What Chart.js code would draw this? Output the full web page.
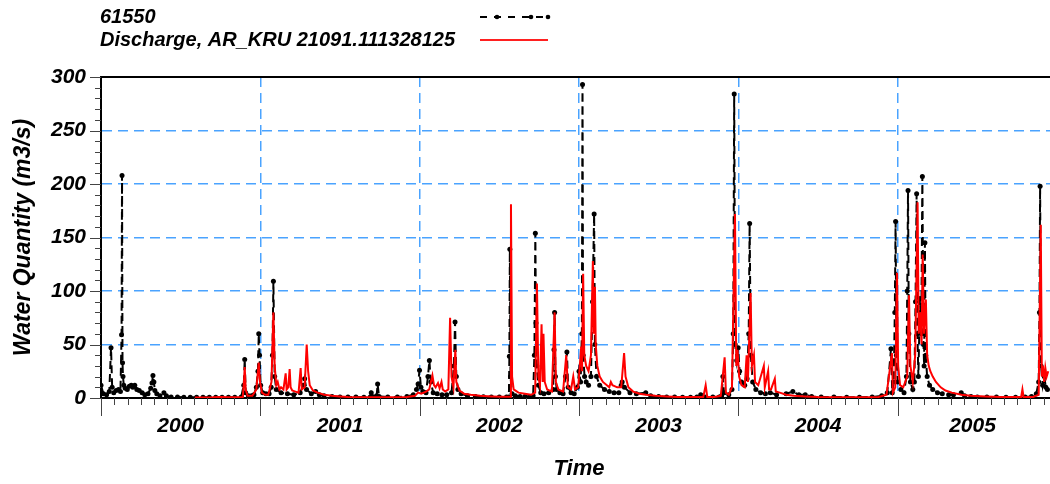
<!DOCTYPE html>
<html>
<head>
<meta charset="utf-8">
<script src="https://cdn.jsdelivr.net/npm/chart.js@4.4.0/dist/chart.umd.min.js"></script>
<style>
html, body { margin: 0; padding: 0; background: #fff; overflow: hidden; }
#wrap { width: 1050px; height: 484px; overflow: hidden; }
</style>
</head>
<body>
<div id="wrap"><canvas id="flowChart" width="1061" height="484"></canvas></div>
<script>
var gaugeLabel = '61550';
var modelLabel = 'Discharge, AR_KRU 21091.111328125';

// observed series (decimal years / m3/s)
var gaugeTime = [
    2000.000, 2000.015, 2000.035, 2000.052, 2000.063, 2000.070, 2000.080, 2000.095, 2000.110, 2000.122,
    2000.129, 2000.132, 2000.135, 2000.138, 2000.143, 2000.152, 2000.165, 2000.178, 2000.190, 2000.200,
    2000.212, 2000.225, 2000.240, 2000.258, 2000.275, 2000.295, 2000.312, 2000.320, 2000.326, 2000.332,
    2000.338, 2000.350, 2000.370, 2000.395, 2000.410, 2000.440, 2000.480, 2000.520, 2000.560, 2000.600,
    2000.640, 2000.680, 2000.720, 2000.760, 2000.800, 2000.840, 2000.880, 2000.896, 2000.902, 2000.908,
    2000.925, 2000.945, 2000.960, 2000.975, 2000.985, 2000.990, 2000.995, 2001.002, 2001.015, 2001.035,
    2001.055, 2001.068, 2001.076, 2001.082, 2001.090, 2001.100, 2001.130, 2001.170, 2001.210, 2001.250,
    2001.270, 2001.278, 2001.290, 2001.320, 2001.347, 2001.370, 2001.400, 2001.450, 2001.500, 2001.550,
    2001.600, 2001.650, 2001.690, 2001.696, 2001.710, 2001.730, 2001.736, 2001.745, 2001.800, 2001.860,
    2001.920, 2001.960, 2001.980, 2001.990, 2001.999, 2002.008, 2002.020, 2002.040, 2002.052, 2002.061,
    2002.070, 2002.085, 2002.110, 2002.140, 2002.170, 2002.200, 2002.215, 2002.222, 2002.230, 2002.240,
    2002.260, 2002.300, 2002.350, 2002.400, 2002.450, 2002.500, 2002.545, 2002.560, 2002.563, 2002.566,
    2002.570, 2002.580, 2002.600, 2002.630, 2002.660, 2002.690, 2002.712, 2002.720, 2002.726, 2002.730,
    2002.735, 2002.745, 2002.760, 2002.780, 2002.810, 2002.838, 2002.843, 2002.847, 2002.852, 2002.860,
    2002.880, 2002.900, 2002.915, 2002.924, 2002.932, 2002.950, 2002.970, 2002.990, 2003.000, 2003.010,
    2003.018, 2003.022, 2003.026, 2003.035, 2003.045, 2003.060, 2003.075, 2003.085, 2003.095, 2003.100,
    2003.110, 2003.130, 2003.160, 2003.190, 2003.220, 2003.250, 2003.265, 2003.271, 2003.285, 2003.320,
    2003.360, 2003.419, 2003.450, 2003.500, 2003.550, 2003.600, 2003.650, 2003.700, 2003.740, 2003.764,
    2003.790, 2003.840, 2003.880, 2003.895, 2003.903, 2003.910, 2003.940, 2003.960, 2003.968, 2003.974,
    2003.980, 2003.990, 2003.999, 2004.008, 2004.020, 2004.040, 2004.055, 2004.065, 2004.071, 2004.078,
    2004.090, 2004.110, 2004.140, 2004.170, 2004.200, 2004.240, 2004.300, 2004.342, 2004.380, 2004.420,
    2004.460, 2004.520, 2004.600, 2004.680, 2004.760, 2004.840, 2004.900, 2004.935, 2004.958, 2004.966,
    2004.975, 2004.982, 2004.987, 2004.992, 2005.000, 2005.020, 2005.040, 2005.055, 2005.060, 2005.065,
    2005.070, 2005.080, 2005.095, 2005.105, 2005.112, 2005.119, 2005.124, 2005.130, 2005.140, 2005.148,
    2005.155, 2005.162, 2005.166, 2005.171, 2005.176, 2005.185, 2005.200, 2005.220, 2005.250, 2005.280,
    2005.320, 2005.350, 2005.399, 2005.420, 2005.460, 2005.500, 2005.560, 2005.620, 2005.680, 2005.740,
    2005.800, 2005.840, 2005.870, 2005.885, 2005.890, 2005.894, 2005.900, 2005.910, 2005.920, 2005.930,
    2005.940
];
var gaugeFlow = [
    12, 4, 3, 6, 47, 10, 5, 7, 8, 6,
    59, 208, 33, 20, 12, 9, 8, 11, 12, 10,
    12, 8, 7, 5, 3, 4, 9, 14, 21, 15,
    7, 4, 2, 5, 2, 1, 1, 0.8, 0.8, 0.8,
    0.7, 0.7, 0.6, 0.6, 0.7, 0.8, 1, 12, 36, 5,
    2, 2, 3, 10, 25, 60, 40, 12, 5, 4,
    4, 10, 40, 109, 20, 8, 5, 4, 3, 5,
    12, 18, 8, 4, 6, 3, 2, 1.5, 1, 1,
    1, 0.8, 1, 5, 1, 2, 13, 1.5, 1, 1,
    1.5, 3, 8, 13, 26, 10, 6, 5, 20, 35,
    15, 5, 4, 3, 3, 5, 30, 71, 20, 8,
    4, 2, 1.5, 1.2, 1, 1, 1, 1, 39, 139,
    20, 4, 2, 1.5, 1.5, 1.5, 2, 40, 154, 70,
    30, 12, 5, 4, 5, 8, 45, 80, 20, 8,
    5, 4, 20, 43, 10, 5, 4, 10, 25, 15,
    60, 293, 40, 20, 15, 12, 20, 90, 172, 50,
    20, 12, 8, 6, 5, 5, 12, 15, 10, 5,
    4, 5, 2, 1.5, 1, 1, 0.8, 0.8, 1, 3,
    1, 1, 1, 2, 20, 5, 3, 8, 60, 284,
    50, 35, 47, 25, 15, 12, 18, 60, 163, 40,
    15, 8, 5, 4, 5, 3, 4, 6, 3, 3,
    1.5, 1, 1, 0.8, 0.8, 1, 2, 5, 46, 5,
    15, 80, 165, 40, 15, 8, 5, 20, 100, 194,
    60, 15, 8, 15, 90, 191, 60, 20, 93, 60,
    207, 50, 30, 145, 40, 20, 12, 8, 5, 4,
    3, 3, 5, 2, 1.5, 1, 1, 1, 0.8, 0.8,
    1, 1.5, 4, 15, 80, 198, 30, 12, 20, 10,
    8
];

// simulated discharge series
var modelTime = [
    2000.589, 2000.650, 2000.700, 2000.750, 2000.800, 2000.850, 2000.890, 2000.897, 2000.902, 2000.908,
    2000.920, 2000.950, 2000.975, 2000.985, 2000.990, 2000.998, 2001.010, 2001.030, 2001.050, 2001.070,
    2001.082, 2001.090, 2001.100, 2001.109, 2001.120, 2001.130, 2001.145, 2001.159, 2001.165, 2001.175,
    2001.184, 2001.190, 2001.200, 2001.220, 2001.240, 2001.253, 2001.260, 2001.278, 2001.291, 2001.300,
    2001.310, 2001.330, 2001.360, 2001.400, 2001.450, 2001.500, 2001.550, 2001.650, 2001.750, 2001.850,
    2001.920, 2001.970, 2001.990, 2002.010, 2002.040, 2002.060, 2002.080, 2002.090, 2002.100, 2002.115,
    2002.125, 2002.137, 2002.145, 2002.160, 2002.180, 2002.191, 2002.200, 2002.212, 2002.224, 2002.230,
    2002.250, 2002.280, 2002.320, 2002.380, 2002.450, 2002.520, 2002.567, 2002.573, 2002.580, 2002.590,
    2002.620, 2002.660, 2002.700, 2002.725, 2002.736, 2002.745, 2002.755, 2002.765, 2002.772, 2002.777,
    2002.785, 2002.800, 2002.830, 2002.847, 2002.855, 2002.870, 2002.900, 2002.920, 2002.930, 2002.950,
    2002.964, 2002.975, 2002.995, 2003.014, 2003.019, 2003.026, 2003.033, 2003.045, 2003.060, 2003.075,
    2003.087, 2003.092, 2003.100, 2003.105, 2003.115, 2003.130, 2003.150, 2003.175, 2003.190, 2003.200,
    2003.210, 2003.240, 2003.265, 2003.283, 2003.292, 2003.310, 2003.340, 2003.380, 2003.420, 2003.480,
    2003.550, 2003.620, 2003.700, 2003.780, 2003.795, 2003.805, 2003.850, 2003.890, 2003.914, 2003.922,
    2003.940, 2003.960, 2003.979, 2003.987, 2003.995, 2004.005, 2004.020, 2004.040, 2004.052, 2004.060,
    2004.077, 2004.085, 2004.098, 2004.105, 2004.125, 2004.160, 2004.166, 2004.187, 2004.193, 2004.205,
    2004.229, 2004.235, 2004.260, 2004.300, 2004.350, 2004.420, 2004.500, 2004.600, 2004.700, 2004.800,
    2004.880, 2004.930, 2004.964, 2004.970, 2004.985, 2004.996, 2005.003, 2005.015, 2005.035, 2005.060,
    2005.071, 2005.080, 2005.095, 2005.110, 2005.125, 2005.132, 2005.142, 2005.150, 2005.157, 2005.165,
    2005.177, 2005.185, 2005.195, 2005.205, 2005.220, 2005.240, 2005.270, 2005.300, 2005.340, 2005.400,
    2005.460, 2005.550, 2005.650, 2005.740, 2005.775, 2005.783, 2005.790, 2005.850, 2005.885, 2005.898,
    2005.905, 2005.912, 2005.920, 2005.927, 2005.935, 2005.945
];
var modelFlow = [
    0.5, 0.5, 0.6, 0.9, 0.6, 0.8, 1, 15, 29, 8,
    2, 2, 8, 25, 33, 15, 5, 3, 3, 15,
    80, 30, 12, 15, 8, 10, 8, 23, 8, 10,
    27, 10, 7, 6, 5, 28, 8, 10, 50, 25,
    12, 7, 5, 3, 2, 1.5, 1, 0.8, 0.8, 0.8,
    1, 2, 5, 4, 6, 8, 21, 12, 10, 14,
    9, 15, 8, 6, 8, 75, 20, 10, 45, 15,
    7, 4, 3, 2, 1.5, 1.2, 1.2, 181, 20, 8,
    5, 4, 3, 5, 107, 20, 12, 69, 15, 60,
    15, 8, 6, 80, 15, 8, 6, 40, 10, 8,
    20, 8, 10, 48, 25, 116, 40, 30, 25, 40,
    128, 60, 104, 50, 30, 20, 15, 12, 10, 15,
    12, 10, 10, 42, 20, 10, 6, 4, 3, 2,
    1.5, 1, 1, 1, 12, 1, 1, 2, 38, 5,
    3, 10, 172, 30, 45, 20, 12, 10, 40, 15,
    98, 30, 40, 15, 12, 30, 10, 25, 8, 8,
    18, 6, 5, 3, 2, 1.5, 1, 0.8, 0.8, 0.8,
    1, 3, 42, 5, 10, 117, 30, 12, 10, 20,
    96, 30, 15, 40, 183, 60, 80, 50, 134, 60,
    92, 40, 30, 25, 20, 15, 10, 7, 5, 3,
    2, 1.5, 1, 1, 1, 8, 1, 1, 3, 162,
    20, 30, 15, 28, 20, 25
];

var yearLabels = ['2000', '2001', '2002', '2003', '2004', '2005'];
var yearLabelAt = [2000.5, 2001.5, 2002.5, 2003.5, 2004.5, 2005.47];
var yearLines = [2001, 2002, 2003, 2004, 2005];

function toPoints(xs, ys) {
    var pts = [];
    for (var i = 0; i < xs.length; i++) pts.push({x: xs[i], y: ys[i]});
    return pts;
}

var gridBlue = '#4aa3ff';
var fontFamily = '"Liberation Sans", Arial, sans-serif';

var frameAndLegend = {
    id: 'frameAndLegend',
    afterDraw: function(chart) {
        var ctx = chart.ctx;
        var a = chart.chartArea;
        var xs = chart.scales.x, ys = chart.scales.y;
        ctx.save();
        ctx.strokeStyle = '#000';
        ctx.lineWidth = 2;
        ctx.beginPath();
        ctx.moveTo(a.left, a.top);
        ctx.lineTo(a.right, a.top);
        ctx.stroke();

        // month ticks below the time axis
        ctx.lineWidth = 1;
        ctx.strokeStyle = '#444';
        for (var m = 0; m <= 84; m++) {
            var v = 2000 + m / 12;
            if (v > xs.max) break;
            var px = Math.round(xs.getPixelForValue(v)) + 0.5;
            ctx.beginPath();
            ctx.moveTo(px, a.bottom);
            ctx.lineTo(px, a.bottom + (m % 12 === 0 ? 18 : 7));
            ctx.stroke();
        }
        // minor ticks on the quantity axis
        for (var t = 0; t <= 300; t += 10) {
            var py = Math.round(ys.getPixelForValue(t)) + 0.5;
            ctx.beginPath();
            ctx.moveTo(a.left, py);
            ctx.lineTo(a.left - (t % 50 === 0 ? 11 : 6), py);
            ctx.stroke();
        }

        // legend
        ctx.fillStyle = '#000';
        ctx.font = 'italic bold 20px ' + fontFamily;
        ctx.textBaseline = 'middle';
        ctx.textAlign = 'left';
        ctx.fillText(gaugeLabel, 100, 17);
        ctx.fillText(modelLabel, 100, 40);

        ctx.lineWidth = 2;
        ctx.strokeStyle = '#000';
        ctx.setLineDash([7, 7]);
        ctx.beginPath();
        ctx.moveTo(480, 17);
        ctx.lineTo(548, 17);
        ctx.stroke();
        ctx.setLineDash([]);
        [497, 531, 548].forEach(function(dx) {
            ctx.beginPath();
            ctx.arc(dx, 17, 2.3, 0, Math.PI * 2);
            ctx.fill();
        });
        ctx.strokeStyle = '#ff2020';
        ctx.beginPath();
        ctx.moveTo(480, 40);
        ctx.lineTo(548, 40);
        ctx.stroke();
        ctx.restore();
    }
};

var ctx = document.getElementById('flowChart');
var flowChart = new Chart(ctx, {
    type: 'line',
    data: {
        datasets: [{
            label: modelLabel,
            data: toPoints(modelTime, modelFlow),
            borderColor: '#ff0000',
            borderWidth: 2,
            pointRadius: 0,
            tension: 0,
            order: 0
        }, {
            label: gaugeLabel,
            data: toPoints(gaugeTime, gaugeFlow),
            borderColor: '#000000',
            borderWidth: 2,
            borderDash: [8, 5],
            pointRadius: 2.5,
            pointBorderWidth: 0,
            pointBackgroundColor: '#000000',
            tension: 0,
            order: 1
        }]
    },
    options: {
        responsive: false,
        animation: false,
        layout: { padding: { top: 77, right: 2, left: 0, bottom: 0 } },
        plugins: {
            legend: { display: false },
            tooltip: { enabled: false }
        },
        scales: {
            x: {
                type: 'linear',
                min: 2000,
                max: 2006,
                afterFit: function(scale) { scale.height = 86; },
                afterBuildTicks: function(scale) {
                    var vals = yearLines.concat(yearLabelAt).sort(function(p, q) { return p - q; });
                    scale.ticks = vals.map(function(v) { return {value: v}; });
                },
                ticks: {
                    autoSkip: false,
                    maxRotation: 0,
                    padding: 16,
                    color: '#000',
                    font: { family: fontFamily, size: 21, style: 'italic', weight: 'bold' },
                    callback: function(value) {
                        var i = yearLabelAt.indexOf(value);
                        return i >= 0 ? yearLabels[i] : '';
                    }
                },
                grid: {
                    drawTicks: false,
                    lineWidth: 1.5,
                    color: function(c) {
                        return c.tick && yearLines.indexOf(c.tick.value) >= 0 ? gridBlue : 'rgba(0,0,0,0)';
                    }
                },
                border: { display: true, color: '#000', width: 2, dash: [10, 6] },
                title: {
                    display: true,
                    text: 'Time',
                    color: '#000',
                    padding: { top: 0, bottom: 2 },
                    font: { family: fontFamily, size: 22, style: 'italic', weight: 'bold' }
                }
            },
            y: {
                min: 0,
                max: 300,
                afterFit: function(scale) { scale.width = 101; },
                ticks: {
                    stepSize: 50,
                    padding: 15,
                    color: '#000',
                    font: { family: fontFamily, size: 21, style: 'italic', weight: 'bold' }
                },
                grid: {
                    drawTicks: false,
                    lineWidth: 1.5,
                    color: function(c) {
                        return c.tick && c.tick.value > 0 && c.tick.value < 300 ? gridBlue : 'rgba(0,0,0,0)';
                    }
                },
                border: { display: true, color: '#000', width: 2, dash: [10, 6] },
                title: {
                    display: true,
                    text: 'Water Quantity (m3/s)',
                    color: '#000',
                    padding: { top: 10, bottom: 0 },
                    font: { family: fontFamily, size: 23, style: 'italic', weight: 'bold' }
                }
            }
        }
    },
    plugins: [frameAndLegend]
});
</script>
</body>
</html>
